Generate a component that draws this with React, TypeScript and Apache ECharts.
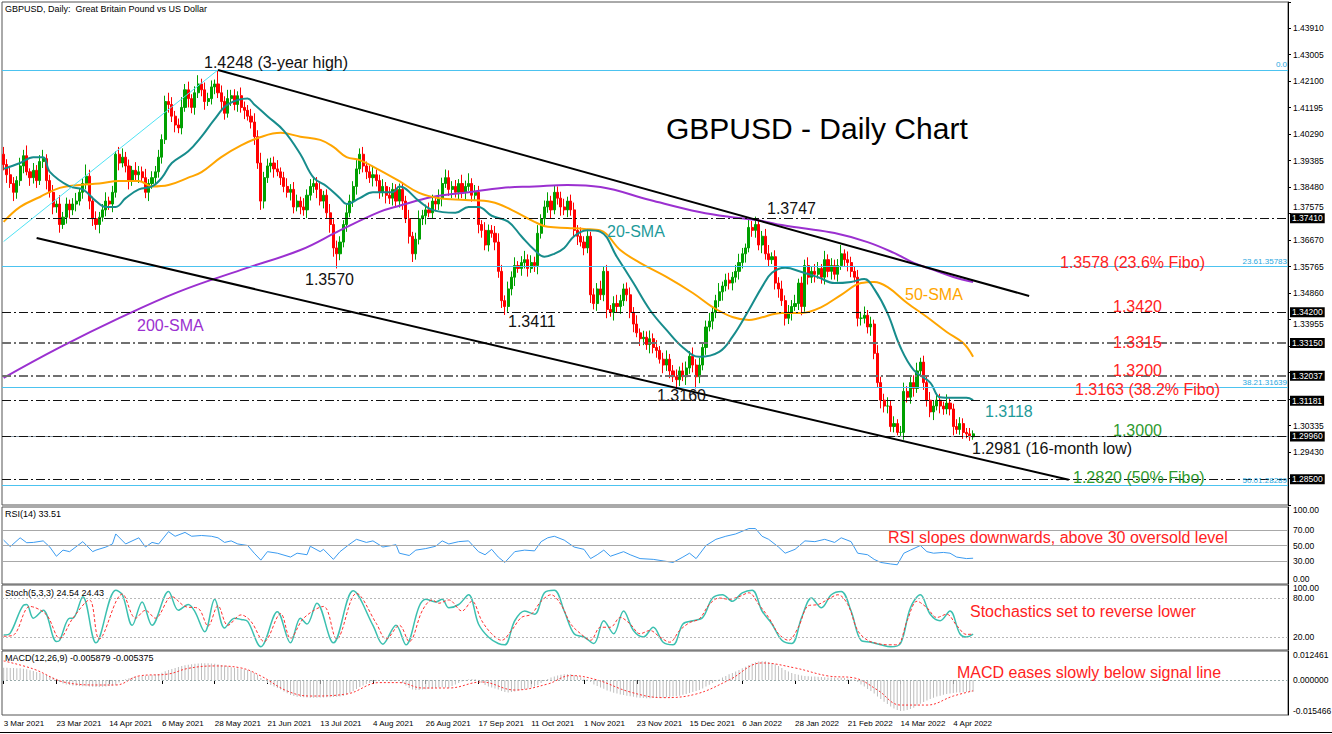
import React, { useEffect, useRef } from 'react';
import * as echarts from 'echarts';

const tickLabels = ['3 Mar 2021','23 Mar 2021','14 Apr 2021','6 May 2021','28 May 2021','21 Jun 2021','13 Jul 2021','4 Aug 2021','26 Aug 2021','17 Sep 2021','11 Oct 2021','1 Nov 2021','23 Nov 2021','15 Dec 2021','6 Jan 2022','28 Jan 2022','21 Feb 2022','14 Mar 2022','4 Apr 2022'];

const firstOpen = 1.3960;
const closes = [
1.3925,1.3890,1.3860,1.3830,1.3870,1.3920,1.3955,1.3900,1.3880,1.3905,
1.3870,1.3935,1.3945,1.3870,1.3830,1.3780,1.3790,1.3720,1.3745,1.3790,
1.3770,1.3790,1.3800,1.3830,1.3860,1.3885,1.3800,1.3740,1.3720,1.3745,
1.3770,1.3800,1.3790,1.3830,1.3960,1.3930,1.3950,1.3920,1.3870,1.3905,
1.3890,1.3900,1.3880,1.3830,1.3860,1.3880,1.3900,1.3950,1.4010,1.4140,
1.4130,1.4090,1.4060,1.4050,1.4120,1.4180,1.4150,1.4120,1.4170,1.4200,
1.4180,1.4140,1.4150,1.4190,1.4200,1.4170,1.4140,1.4100,1.4150,1.4160,
1.4130,1.4160,1.4120,1.4110,1.4090,1.4070,1.4020,1.3930,1.3800,1.3880,
1.3920,1.3930,1.3910,1.3900,1.3880,1.3850,1.3830,1.3840,1.3780,1.3800,
1.3780,1.3770,1.3820,1.3850,1.3860,1.3840,1.3800,1.3820,1.3760,1.3720,
1.3640,1.3620,1.3660,1.3720,1.3760,1.3800,1.3850,1.3910,1.3960,1.3920,
1.3900,1.3880,1.3890,1.3870,1.3830,1.3850,1.3820,1.3810,1.3840,1.3800,
1.3840,1.3800,1.3740,1.3680,1.3620,1.3670,1.3740,1.3750,1.3770,1.3760,
1.3800,1.3790,1.3810,1.3860,1.3880,1.3840,1.3850,1.3830,1.3860,1.3830,
1.3850,1.3860,1.3820,1.3830,1.3720,1.3700,1.3650,1.3700,1.3690,1.3660,
1.3560,1.3460,1.3440,1.3500,1.3540,1.3580,1.3570,1.3590,1.3600,1.3570,
1.3590,1.3580,1.3690,1.3740,1.3780,1.3800,1.3770,1.3830,1.3810,1.3780,
1.3770,1.3800,1.3770,1.3700,1.3680,1.3660,1.3640,1.3680,1.3480,1.3450,
1.3500,1.3480,1.3560,1.3430,1.3420,1.3450,1.3440,1.3460,1.3500,1.3480,
1.3420,1.3380,1.3350,1.3330,1.3335,1.3310,1.3330,1.3300,1.3290,1.3260,
1.3240,1.3260,1.3220,1.3200,1.3190,1.3220,1.3200,1.3230,1.3270,1.3240,
1.3200,1.3240,1.3300,1.3370,1.3390,1.3420,1.3460,1.3490,1.3510,1.3530,
1.3520,1.3540,1.3560,1.3590,1.3620,1.3640,1.3710,1.3700,1.3720,1.3650,
1.3680,1.3620,1.3600,1.3610,1.3520,1.3500,1.3460,1.3400,1.3420,1.3440,
1.3450,1.3520,1.3440,1.3580,1.3540,1.3560,1.3550,1.3570,1.3540,1.3600,
1.3560,1.3580,1.3550,1.3580,1.3620,1.3600,1.3590,1.3560,1.3540,1.3400,
1.3400,1.3410,1.3370,1.3380,1.3280,1.3180,1.3120,1.3100,1.3100,1.3030,
1.3040,1.3010,1.3010,1.3150,1.3130,1.3180,1.3160,1.3220,1.3250,1.3180,
1.3120,1.3080,1.3100,1.3120,1.3100,1.3090,1.3110,1.3090,1.3030,1.3020,
1.3040,1.3010,1.3005,1.2995,1.3005
];

// upper / lower wick length of each candle, in pips
const wickUp = [
25,18,30,22,15,28,20,35,12,25, 18,22,30,15,20,25,12,30,18,22,
15,20,28,12,18,40,22,15,25,18, 20,30,15,22,10,25,30,18,22,15,
28,20,18,30,15,22,20,25,18,20, 30,25,18,22,35,20,28,15,22,30,
18,25,20,22,15,48,25,18,30,20, 22,15,28,20,18,25,30,22,35,20,
25,18,22,30,15,20,28,18,25,22, 15,30,20,25,18,22,28,15,20,30,
18,25,20,15,28,22,18,30,20,25, 15,22,30,18,20,25,15,28,22,18,
20,25,18,30,15,22,28,20,18,25, 22,15,30,20,28,25,18,22,15,30,
20,35,18,25,22,15,28,20,18,25, 30,22,18,25,20,28,15,22,30,18,
25,20,28,15,22,30,18,25,20,22, 28,15,22,25,18,30,20,25,15,22,
20,28,18,22,15,25,30,20,18,22, 25,18,30,15,22,20,28,18,25,15,
22,30,18,20,25,15,28,22,18,30, 20,25,15,22,28,18,20,30,15,22,
25,18,22,30,20,15,28,22,27,20, 18,25,30,15,22,20,28,18,25,22,
30,15,22,20,28,18,25,22,15,30, 18,25,20,22,30,15,28,20,18,25,
22,30,18,25,15,28,20,22,30,18, 25,15,22,30,18,20,25,28,15,22,
20,28,18,25,22,15,30,20,18,25, 22,18,15,20,12
];
const wickDn = [
20,28,15,30,22,18,25,12,28,20, 25,15,22,30,18,25,20,28,15,22,
30,18,25,15,22,20,28,25,18,30, 15,22,20,28,18,25,15,22,30,18,
22,28,15,20,30,18,25,20,22,15, 28,20,25,18,22,15,30,20,25,18,
22,28,15,20,25,18,30,22,15,25, 20,25,18,30,15,22,28,20,30,25,
18,22,30,15,25,20,18,28,22,15, 25,20,28,18,22,30,15,25,20,28,
30,50,22,18,25,15,20,28,18,22, 25,18,30,20,22,15,28,20,25,18,
22,30,15,25,28,20,18,22,30,15, 18,25,20,28,15,22,30,18,25,20,
28,15,22,20,30,25,18,22,15,28, 22,25,29,18,22,30,15,25,20,28,
15,22,30,18,25,20,28,15,22,30, 18,25,20,22,30,15,25,18,28,20,
25,18,22,30,15,28,20,25,18,22, 20,28,15,25,22,18,30,20,25,15,
28,20,25,18,30,22,15,28,20,25, 40,22,18,25,15,28,20,22,30,18,
22,25,18,28,20,30,15,22,25,18, 28,20,25,15,22,30,18,25,20,28,
15,22,30,18,25,20,28,15,22,25, 20,28,18,25,15,22,30,20,18,28,
25,18,22,30,20,15,28,22,25,18, 20,10,12,25,18,22,28,15,20,25,
22,18,28,15,25,20,18,22,30,15, 18,22,15,14,10
];

const sma20 = [[0,1.391],[5,1.393],[9,1.395],[12,1.395],[14,1.390],[20,1.385],[24,1.384],[28,1.380],[31,1.378],[34,1.378],[37,1.381],[41,1.384],[45,1.385],[48,1.388],[51,1.393],[56,1.397],[60,1.402],[64,1.408],[68,1.413],[74,1.415],[76,1.413],[80,1.409],[85,1.404],[90,1.396],[94,1.388],[98,1.385],[102,1.381],[104,1.379],[108,1.381],[112,1.383],[118,1.383],[120,1.385],[126,1.380],[130,1.377],[137,1.376],[141,1.378],[144,1.378],[148,1.375],[153,1.373],[157,1.368],[161,1.3633],[164,1.361],[167,1.362],[170,1.364],[173,1.368],[177,1.370],[181,1.3695],[186,1.3609],[191,1.352],[196,1.3428],[201,1.336],[206,1.330],[211,1.3268],[217,1.3285],[221,1.3336],[226,1.3428],[230,1.3507],[233,1.3555],[237,1.3572],[242,1.3558],[247,1.354],[252,1.352],[257,1.3524],[261,1.3534],[264,1.350],[268,1.3418],[272,1.330],[276,1.3223],[281,1.318],[284,1.313],[288,1.3128],[292,1.3128],[294,1.312]];
const sma50 = [[0,1.3729],[5,1.378],[11,1.3814],[17,1.3845],[23,1.3855],[29,1.386],[35,1.3869],[41,1.3869],[45,1.385],[50,1.3855],[56,1.388],[60,1.3899],[66,1.395],[72,1.399],[78,1.4019],[84,1.4033],[90,1.402],[96,1.4009],[100,1.3985],[104,1.395],[108,1.394],[114,1.3906],[120,1.3868],[126,1.3828],[132,1.381],[140,1.3804],[148,1.3797],[154,1.377],[161,1.3729],[165,1.3712],[171,1.3708],[176,1.3705],[181,1.370],[187,1.3633],[193,1.3589],[201,1.3541],[209,1.3486],[215,1.3438],[221,1.3404],[226,1.3394],[229,1.340],[236,1.3418],[242,1.3418],[248,1.3438],[254,1.348],[260,1.352],[264,1.3524],[268,1.3507],[274,1.3452],[280,1.3404],[286,1.3353],[291,1.3315],[294,1.3268]];
const sma200 = [[0,1.3196],[17,1.330],[35,1.340],[53,1.349],[72,1.3565],[90,1.3633],[102,1.370],[114,1.3763],[120,1.3784],[130,1.3814],[141,1.383],[151,1.3845],[161,1.385],[171,1.3855],[181,1.3848],[196,1.3804],[211,1.3763],[223,1.3742],[230,1.3732],[236,1.3718],[242,1.3708],[252,1.3691],[262,1.366],[270,1.3623],[276,1.3589],[282,1.3565],[288,1.3541],[294,1.3524]];

const rsi = [[0,57],[2,48.5],[5,60],[7,53.6],[9,54],[12,56],[14,48],[16,36],[18,44],[20,42],[24,55],[27,42],[28,44],[31,48],[33,52],[34,65],[37,52],[41,60],[43,48],[45,54],[47,52],[50,68],[52,62],[55,67],[57,62],[60,63],[63,62],[65,60],[67,54],[69,56],[71,52],[74,50],[76,40],[78,31],[80,42],[83,40],[87,35],[89,40],[92,38],[93,49],[96,42],[97,45],[100,32],[102,42],[105,52],[107,58],[110,54],[112,56],[115,48],[119,51],[120,40],[123,37],[125,44],[128,46],[131,49],[133,56],[135,52],
[138,55],[141,56],[144,42],[146,38],[148,45],[150,35],[152,28],[155,42],[158,44],[161,43],[163,55],[165,60],[167,62],[170,57],[173,48],[176,45],[178,33],[180,38],[182,44],[184,36],[188,42],[190,38],[193,33],[197,32],[200,30],[203,28],[206,35],[208,40],[210,33],[213,50],[216,58],[219,62],[222,65],[226,72],[228,72],[230,62],[232,58],[235,48],[237,40],[240,45],[243,56],[246,55],[249,58],[252,54],[254,60],[257,55],[259,40],[262,38],[264,32],[266,28],[269,26],[271,25],[273,40],[275,44],[278,50],[280,42],[282,40],[285,41],[287,40],[289,35],[292,33],[294,33.5]];

const stochMain = [[0,23],[2,26],[6,69],[7,70],[9,49],[12,61],[16,13],[17,15],[20,49],[21,49],[24,82],[28,11],[34,92],[36,85],[39,38],[42,74],[45,38],[50,90],[53,61],[56,70],[58,59],[61,28],[64,78],[67,34],[70,49],[72,47],[74,44],[78,5],[83,59],[87,11],[90,49],[92,40],[95,72],[100,11],[106,91],[112,38],[115,9],[119,38],[122,8],[126,67],[128,78],[131,74],[133,78],[135,65],
[138,70],[141,85],[144,40],[147,20],[150,10],[152,8],[155,45],[158,60],[161,55],[164,88],[167,92],[170,60],[173,25],[176,20],[179,10],[182,45],[185,25],[188,60],[191,30],[194,20],[197,35],[200,12],[203,8],[206,40],[209,45],[212,50],[215,80],[218,85],[221,75],[224,88],[227,92],[230,60],[233,40],[236,15],[239,10],[242,50],[245,80],[248,65],[251,85],[254,90],[257,60],[260,15],[263,12],[266,8],[269,5],[272,10],[275,65],[278,85],[281,55],[284,45],[287,60],[290,25],[292,20],[294,24.5]];
const stochSignal = [[0,21],[3,23],[8,67],[13,54],[17,18],[21,49],[26,77],[29,17],[36,86],[40,49],[43,61],[46,49],[51,82],[55,67],[59,64],[62,37],[65,68],[68,38],[72,54],[75,44],[79,13],[84,56],[87,18],[91,49],[97,67],[101,17],[107,87],[113,41],[116,17],[120,38],[123,13],[127,61],[130,77],[132,72],[135,77],
[139,60],[142,75],[145,45],[148,25],[151,15],[154,30],[157,50],[160,55],[163,75],[166,85],[169,70],[172,40],[175,25],[178,15],[181,35],[184,35],[187,50],[190,40],[193,25],[196,30],[199,20],[202,12],[205,30],[208,42],[211,48],[214,70],[217,80],[220,78],[223,82],[226,88],[229,70],[232,50],[235,25],[238,15],[241,35],[244,68],[247,70],[250,78],[253,85],[256,70],[259,30],[262,15],[265,10],[268,8],[271,8],[274,45],[277,75],[280,65],[283,50],[286,55],[289,38],[292,24],[294,24.4]];

const macdHist = [
0.0061,0.0061,0.0060,0.0060,0.0059,0.0058,0.0056,0.0053,0.0049,0.0045,
0.0040,0.0036,0.0030,0.0025,0.0019,0.0012,0.0006,-0.0010,-0.0018,-0.0022,
-0.0025,-0.0027,-0.0029,-0.0030,-0.0031,-0.0031,-0.0033,-0.0034,-0.0035,-0.0035,
-0.0034,-0.0032,-0.0030,-0.0027,-0.0025,-0.0012,-0.0002,0.0004,0.0009,0.0012,
0.0016,0.0018,0.0020,0.0021,0.0023,0.0025,0.0027,0.0030,0.0036,0.0043,
0.0050,0.0055,0.0060,0.0065,0.0070,0.0073,0.0076,0.0078,0.0081,0.0082,
0.0083,0.0083,0.0083,0.0082,0.0081,0.0079,0.0075,0.0072,0.0068,0.0064,
0.0060,0.0058,0.0056,0.0053,0.0050,0.0045,0.0035,0.0025,0.0010,-0.0005,
-0.0015,-0.0025,-0.0032,-0.0040,-0.0048,-0.0057,-0.0066,-0.0075,-0.0080,-0.0083,
-0.0085,-0.0086,-0.0087,-0.0088,-0.0088,-0.0088,-0.0087,-0.0087,-0.0086,-0.0086,
-0.0085,-0.0083,-0.0082,-0.0080,-0.0072,-0.0064,-0.0055,-0.0045,-0.0035,-0.0027,
-0.0020,-0.0015,-0.0010,-0.0006,-0.0004,-0.0003,-0.0003,-0.0004,-0.0004,-0.0005,
-0.0005,-0.0015,-0.0028,-0.0040,-0.0048,-0.0050,-0.0050,-0.0048,-0.0046,-0.0044,
-0.0042,-0.0040,-0.0038,-0.0036,-0.0038,-0.0040,-0.0030,-0.0022,-0.0015,-0.0008,
-0.0002,0.0003,0.0005,0.0004,-0.0005,-0.0015,-0.0025,-0.0032,-0.0038,-0.0042,
-0.0048,-0.0055,-0.0060,-0.0062,-0.0060,-0.0058,-0.0054,-0.0050,-0.0046,-0.0042,
-0.0038,-0.0032,-0.0025,-0.0015,-0.0005,0.0005,0.0012,0.0018,0.0023,0.0026,
0.0028,0.0029,0.0028,0.0025,0.0020,0.0014,0.0008,0.0002,-0.0010,-0.0022,
-0.0030,-0.0038,-0.0044,-0.0052,-0.0058,-0.0064,-0.0068,-0.0072,-0.0075,-0.0078,
-0.0081,-0.0084,-0.0087,-0.0089,-0.0090,-0.0091,-0.0091,-0.0090,-0.0090,-0.0089,
-0.0088,-0.0086,-0.0084,-0.0082,-0.0080,-0.0078,-0.0074,-0.0070,-0.0065,-0.0060,
-0.0055,-0.0050,-0.0042,-0.0033,-0.0024,-0.0015,-0.0006,0.0003,0.0012,0.0020,
0.0028,0.0035,0.0042,0.0050,0.0058,0.0066,0.0075,0.0082,0.0088,0.0092,
0.0094,0.0093,0.0090,0.0085,0.0078,0.0070,0.0060,0.0050,0.0042,0.0035,
0.0030,0.0026,0.0022,0.0020,0.0019,0.0018,0.0017,0.0016,0.0015,0.0014,
0.0013,0.0012,0.0011,0.0010,0.0011,0.0010,0.0008,0.0005,0.0002,-0.0010,
-0.0022,-0.0033,-0.0045,-0.0055,-0.0068,-0.0082,-0.0095,-0.0108,-0.0120,-0.0132,
-0.0142,-0.0150,-0.0155,-0.0153,-0.0150,-0.0145,-0.0138,-0.0128,-0.0118,-0.0110,
-0.0102,-0.0095,-0.0088,-0.0082,-0.0078,-0.0074,-0.0070,-0.0067,-0.0065,-0.0063,
-0.0062,-0.0061,-0.0060,-0.0059,-0.0059
];
const macdSignal = [[0,0.0095],[9,0.0055],[19,-0.0013],[29,-0.0025],[34,-0.0025],[41,0.002],[50,0.003],[56,0.0058],[64,0.007],[72,0.006],[78,0.002],[86,-0.0055],[93,-0.008],[104,-0.007],[114,-0.0013],[120,-0.0013],[127,-0.004],[135,-0.004],[145,-0.001],[155,-0.005],[165,-0.002],[172,0.0022],[180,0.0],[190,-0.006],[200,-0.0088],[210,-0.007],[220,0.0],[230,0.0085],[240,0.006],[250,0.002],[258,0.001],[265,-0.005],[272,-0.0125],[280,-0.0125],[288,-0.008],[294,-0.0054]];

// horizontal levels marked on the price chart
const keyLevels = [1.3741, 1.3420, 1.3315, 1.32037, 1.31181, 1.2996, 1.2850];
const keyLevelLabels = ['1.37410','1.34200','1.33150','1.32037','1.31181','1.29960','1.28500'];
const fiboLevels = [1.4248, 1.35783, 1.31639, 1.28289];
const fiboLabels = ['0.0','23.61.35783','38.21.31639','50.01.28289'];
const hiddenPriceTicks = [1.28525, 1.3124, 1.32145, 1.3305];
const raisedPriceTicks = [1.37575];
const loweredPriceTicks = [1.33955];

const SLOTS = 390;
const FONT = '"Liberation Sans", Arial, sans-serif';

function buildOption() {
  const cats = Array.from({ length: SLOTS }, (_, i) => String(i));
  const candles = closes.map((c, i) => {
    const o = i === 0 ? firstOpen : closes[i - 1];
    const hi = Math.max(o, c) + wickUp[i] / 10000;
    const lo = Math.min(o, c) - wickDn[i] / 10000;
    return [o, c, lo, hi];
  });
  const grids = [
    { left: 2, top: 2, width: 1286, height: 503 },
    { left: 2, top: 507, width: 1286, height: 77 },
    { left: 2, top: 585, width: 1286, height: 65 },
    { left: 2, top: 651, width: 1286, height: 64 },
  ].map(g => ({ ...g, show: true, borderColor: '#555', borderWidth: 1, backgroundColor: '#fff' }));

  const tickOk = (idx: number) => idx % 16 === 0 && idx <= 288;
  const xAxes = [0, 1, 2, 3].map(gi => ({
    type: 'category', gridIndex: gi, data: cats, boundaryGap: true,
    axisLine: { show: false },
    axisTick: gi === 3 ? { show: true, alignWithLabel: true, length: 4, lineStyle: { color: '#000' }, interval: tickOk } : { show: false },
    axisLabel: gi === 3 ? {
      show: true, interval: tickOk,
      formatter: (_v: string, idx: number) => tickLabels[idx / 16] || '',
      align: 'left', fontSize: 8, color: '#000', fontFamily: FONT, margin: 4,
    } : { show: false },
    splitLine: { show: false },
  }));

  const labelStyle = { fontSize: 8.5, color: '#000', fontFamily: FONT };
  const near = (a: number, b: number) => Math.abs(a - b) < 1e-6;
  const shiftRich = {
    up: { fontSize: 8.5, fontFamily: FONT, padding: [0, 0, 10, 0] },
    dn: { fontSize: 8.5, fontFamily: FONT, padding: [6, 0, 0, 0] },
    hi: { fontSize: 8.5, fontFamily: FONT, padding: [0, 0, 14, 0] },
    lo: { fontSize: 8.5, fontFamily: FONT, padding: [8, 0, 0, 0] },
  };
  const priceFmt = (v: number) => {
    if (v > 1.444 || v < 1.28 || hiddenPriceTicks.some(h => near(h, v))) return '';
    if (raisedPriceTicks.some(h => near(h, v))) return '{hi|' + v.toFixed(5) + '}';
    if (loweredPriceTicks.some(h => near(h, v))) return '{lo|' + v.toFixed(5) + '}';
    return v.toFixed(5);
  };
  const yAxes = [
    { type: 'value', gridIndex: 0, position: 'right', min: 1.2762, max: 1.4480, interval: 0.00905,
      axisLabel: { ...labelStyle, margin: 5, formatter: priceFmt, rich: shiftRich },
      axisLine: { show: true, lineStyle: { color: '#000' } }, axisTick: { show: true, length: 3, lineStyle: { color: '#000' } },
      splitLine: { show: false } },
    { type: 'value', gridIndex: 1, position: 'right', min: 0, max: 100, interval: 10,
      axisLabel: { ...labelStyle, margin: 5,
        formatter: (v: number) => { const r = Math.round(v); if (r === 0) return '{up|0.00}'; if (r === 100) return '{dn|100.00}'; return [30, 50, 70].includes(r) ? v.toFixed(2) : ''; },
        rich: shiftRich },
      axisLine: { show: true, lineStyle: { color: '#000' } }, axisTick: { show: false }, splitLine: { show: false } },
    { type: 'value', gridIndex: 2, position: 'right', min: 0, max: 100, interval: 20,
      axisLabel: { ...labelStyle, margin: 5,
        formatter: (v: number) => { const r = Math.round(v); if (r === 0) return '{up|0.00}'; if (r === 100) return '{dn|100.00}'; return [20, 80].includes(r) ? v.toFixed(2) : ''; },
        rich: shiftRich },
      axisLine: { show: true, lineStyle: { color: '#000' } }, axisTick: { show: false }, splitLine: { show: false } },
    { type: 'value', gridIndex: 3, position: 'right', min: -0.017461, max: 0.014456,
      axisLabel: { show: false }, axisLine: { show: true, lineStyle: { color: '#000' } }, axisTick: { show: false }, splitLine: { show: false } },
  ];

  const dashDot = [9, 3, 2, 3];
  const levelLines = keyLevels.map((v, k) => {
    const gray = v === 1.3315 || v === 1.32037;
    return {
      yAxis: v,
      lineStyle: { color: gray ? '#707070' : '#111', width: gray ? 2 : 1, type: dashDot },
      label: { show: true, position: 'end', formatter: keyLevelLabels[k], backgroundColor: '#000', color: '#fff',
        fontSize: 8.5, fontFamily: FONT, padding: [1, 2, 0, 2], distance: 2 },
    };
  });
  const bidLine = { yAxis: 1.2996, lineStyle: { color: '#8a9aa8', width: 1, type: 'solid' }, label: { show: false } };
  const fibLines = fiboLevels.map((v, k) => ({
    yAxis: v,
    lineStyle: { color: '#4CC3F0', width: 1, type: 'solid' },
    label: { show: true, position: 'insideEndTop', formatter: fiboLabels[k], color: '#29A8E0', fontSize: 8, fontFamily: FONT, distance: 1 },
  }));
  const trendLines = [
    [{ coord: [65, 1.4248] }, { coord: [311, 1.3476] }],
    [{ coord: [10, 1.3674] }, { coord: [323, 1.2848] }],
  ].map(pair => pair.map((p, j) => j === 0 ? { ...p, lineStyle: { color: '#000', width: 2, type: 'solid' }, label: { show: false } } : p));
  const fibBase = [{ coord: [0, 1.3662], lineStyle: { color: '#4FE3F5', width: 1, type: 'solid' }, label: { show: false } }, { coord: [65, 1.4248] }];

  const clear = { color: 'rgba(0,0,0,0)', width: 1, type: 'solid' };
  const macdLevels = [
    { yAxis: 0.012461, lineStyle: clear, label: { show: true, position: 'end', formatter: '0.012461', ...labelStyle, distance: 5 } },
    { yAxis: 0, lineStyle: { color: '#9aa', type: [2, 2], width: 1 }, label: { show: true, position: 'end', formatter: '0.000000', ...labelStyle, distance: 5 } },
    { yAxis: -0.015466, lineStyle: clear, label: { show: true, position: 'end', formatter: '-0.015466', ...labelStyle, distance: 5 } },
  ];

  const series: any[] = [
    { type: 'candlestick', xAxisIndex: 0, yAxisIndex: 0, data: candles, barWidth: 2.6,
      itemStyle: { color: '#00A000', color0: '#FF0000', borderColor: '#00A000', borderColor0: '#FF0000', borderWidth: 1 },
      markLine: { silent: true, symbol: ['none', 'none'], precision: 6, animation: false,
        data: [...fibLines, bidLine, ...levelLines, fibBase, ...trendLines] } },
    { type: 'line', xAxisIndex: 0, yAxisIndex: 0, data: sma200, smooth: 0.4, showSymbol: false, lineStyle: { color: '#9B30D0', width: 2 } },
    { type: 'line', xAxisIndex: 0, yAxisIndex: 0, data: sma50, smooth: 0.4, showSymbol: false, lineStyle: { color: '#FFA500', width: 2 } },
    { type: 'line', xAxisIndex: 0, yAxisIndex: 0, data: sma20, smooth: 0.4, showSymbol: false, lineStyle: { color: '#178C8C', width: 2 } },
    { type: 'line', xAxisIndex: 1, yAxisIndex: 1, data: rsi, showSymbol: false, lineStyle: { color: '#3B9BF0', width: 1 },
      markLine: { silent: true, symbol: ['none', 'none'], label: { show: false }, precision: 6,
        data: [70, 50, 30].map(v => ({ yAxis: v, lineStyle: { color: '#A8A8A8', type: 'solid', width: 1 } })) } },
    { type: 'line', xAxisIndex: 2, yAxisIndex: 2, data: stochMain, smooth: 0.35, showSymbol: false, lineStyle: { color: '#3CC0B0', width: 1.5 },
      markLine: { silent: true, symbol: ['none', 'none'], label: { show: false }, precision: 6,
        data: [80, 20].map(v => ({ yAxis: v, lineStyle: { color: '#B8B8B8', type: [2, 2], width: 1 } })) } },
    { type: 'line', xAxisIndex: 2, yAxisIndex: 2, data: stochSignal, smooth: 0.35, showSymbol: false, lineStyle: { color: '#FF3030', width: 1, type: [3, 2] } },
    { type: 'bar', xAxisIndex: 3, yAxisIndex: 3, data: macdHist, barWidth: 1, itemStyle: { color: '#BDBDBD' },
      markLine: { silent: true, symbol: ['none', 'none'], precision: 6, data: macdLevels } },
    { type: 'line', xAxisIndex: 3, yAxisIndex: 3, data: macdSignal, smooth: 0.4, showSymbol: false, lineStyle: { color: '#FF3030', width: 1, type: [2, 2] } },
  ];

  const t = (text: string, x: number, y: number, fill: string, size = 16, extra: any = {}) => ({
    type: 'text', x, y, z: 100,
    style: { text, fill, fontSize: size, fontFamily: FONT, verticalAlign: 'middle', align: 'left', ...extra },
  });
  const RED = '#FF2222';
  const GREEN = '#2E9A2E';
  const TEAL = '#1E9A9A';
  const graphic = [
    t('GBPUSD, Daily:  Great Britain Pound vs US Dollar', 5, 9, '#000', 9),
    t('GBPUSD - Daily Chart', 666, 128, '#000', 30),
    t('1.4248 (3-year high)', 204, 62, '#111'),
    t('1.3570', 305, 279, '#111'),
    t('1.3411', 508, 321, '#111'),
    t('1.3160', 657, 395, '#111'),
    t('1.3747', 767, 208, '#111'),
    t('20-SMA', 607, 231, TEAL),
    t('50-SMA', 905, 294, '#FFA500'),
    t('200-SMA', 137, 325, '#9B30D0'),
    t('1.3578 (23.6% Fibo)', 1060, 262, RED),
    t('1.3420', 1113, 306, RED),
    t('1.3315', 1113, 342, RED),
    t('1.3200', 1113, 370, RED),
    t('1.3163 (38.2% Fibo)', 1075, 389, RED),
    t('1.3118', 985, 411, TEAL),
    t('1.3000', 1113, 430, GREEN),
    t('1.2981 (16-month low)', 972, 448, '#111'),
    t('1.2820 (50% Fibo)', 1073, 477, GREEN),
    t('RSI(14) 33.51', 5, 514, '#000', 9),
    t('Stoch(5,3,3) 24.54 24.43', 5, 593, '#000', 9),
    t('MACD(12,26,9) -0.005879 -0.005375', 5, 658, '#000', 9),
    t('RSI slopes downwards, above 30 oversold level', 888, 537, RED),
    t('Stochastics set to reverse lower', 970, 611, RED),
    t('MACD eases slowly below signal line', 957, 672, RED),
    { type: 'line', z: 100, shape: { x1: 0, y1: 732.5, x2: 1332, y2: 732.5 }, style: { stroke: '#000', lineWidth: 1 } },
  ];

  return { animation: false, backgroundColor: '#fff', grid: grids, xAxis: xAxes, yAxis: yAxes, series, graphic };
}

export default function App() {
  const ref = useRef<HTMLDivElement>(null);
  useEffect(() => {
    const chart = echarts.init(ref.current!, null, { renderer: 'svg' });
    chart.setOption(buildOption() as any);
    return () => chart.dispose();
  }, []);
  return <div ref={ref} style={{ position: 'fixed', left: 0, top: 0, width: 1332, height: 734, background: '#fff' }} />;
}
